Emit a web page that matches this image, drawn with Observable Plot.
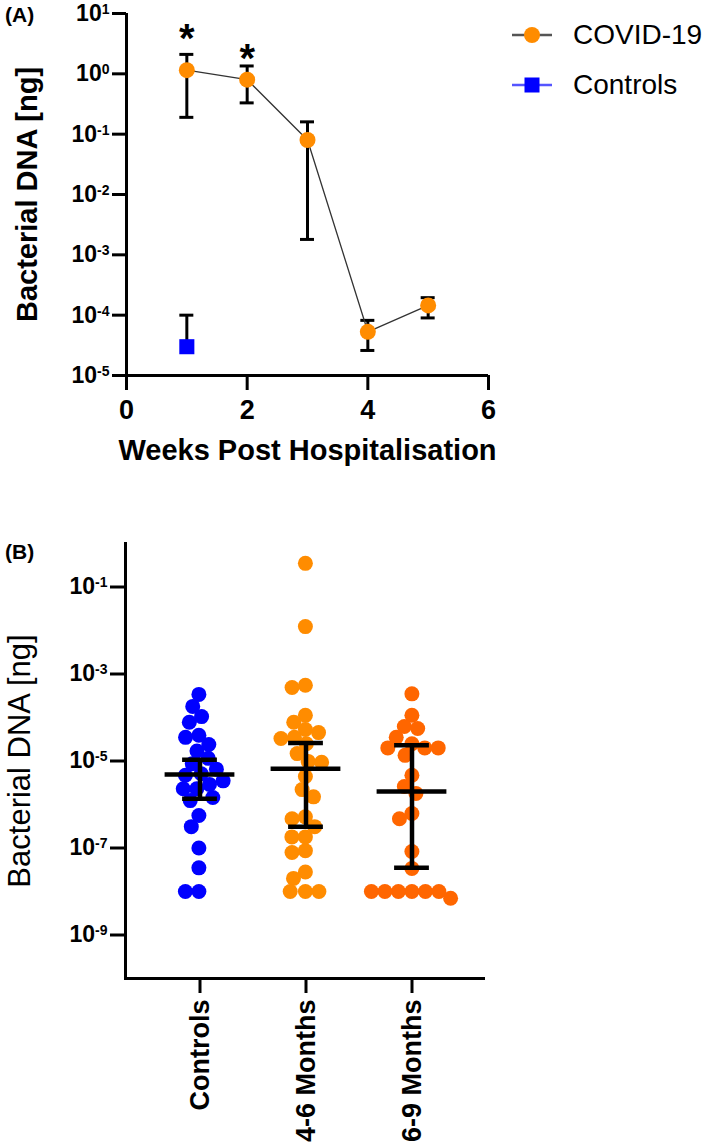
<!DOCTYPE html>
<html>
<head>
<meta charset="utf-8">
<script src="https://cdn.jsdelivr.net/npm/d3@7"></script>
<script src="https://cdn.jsdelivr.net/npm/@observablehq/plot@0.6"></script>
<style>
  body { margin: 0; background: #fff; }
  #wrap { position: relative; width: 709px; height: 1148px; font-family: "Liberation Sans", Arial, sans-serif; color: #000; }
  .abs { position: absolute; white-space: nowrap; }
  #plotA { position: absolute; left: 0; top: 0; }
  #plotB { position: absolute; left: 0; top: 500px; }
  .panel { font-size: 21px; font-weight: bold; line-height: 21px; }
  .leg { font-size: 28px; line-height: 28px; }
  svg g[aria-label$="tick label"] { font-weight: bold; }
</style>
</head>
<body>
<div id="wrap">
  <div id="plotA"></div>
  <div id="plotB"></div>
  <div class="abs panel" style="left:5px;top:4px">(A)</div>
  <div class="abs panel" style="left:5px;top:541px">(B)</div>
  <svg class="abs" style="left:510px;top:25px" width="44" height="20">
    <line x1="2" x2="42" y1="10" y2="10" stroke="#555" stroke-width="2.5"/>
    <circle cx="22" cy="10" r="8" fill="#FF8C00"/>
  </svg>
  <div class="abs leg" style="left:573px;top:21px">COVID-19</div>
  <svg class="abs" style="left:510px;top:75px" width="44" height="20">
    <line x1="2" x2="42" y1="10" y2="10" stroke="#5555FF" stroke-width="2.5"/>
    <rect x="14.5" y="2.5" width="15" height="15" fill="#0000FF"/>
  </svg>
  <div class="abs leg" style="left:573px;top:71px">Controls</div>
</div>
<script>
// ---------- Panel A data ----------
const weeks = [1, 2, 3, 4, 5];
const covidMean = [1.15, 0.80, 0.080, 5.3e-5, 1.45e-4];
const covidHi   = [2.1, 1.35, 0.16, 8.2e-5, 1.95e-4];
const covidLo   = [0.19, 0.33, 0.0018, 2.6e-5, 9.0e-5];
const controlWeek = [1];
const controlMean = [3.0e-5];
const controlHi   = [1.0e-4];
const sigWeeks = [1, 2];
const sigY = [5.6, 2.6];
const xTicksA = [0, 2, 4, 6];
const yTicksA = [10, 1, 0.1, 0.01, 1e-3, 1e-4, 1e-5];

// ---------- Panel B data ----------
const groups = ["Controls", "4-6 Months", "6-9 Months"];
const controlsVals = [3.4e-4, 1.8e-4, 1.05e-4, 7.8e-5, 3.9e-5, 3.5e-5, 2.4e-5, 1.7e-5, 1.15e-5, 8.7e-6,
  6.5e-6, 5.1e-6, 4.7e-6, 3.5e-6, 2.9e-6, 2.3e-6, 2.3e-6, 1.45e-6, 1.23e-6, 5.6e-7, 3.1e-7, 1.0e-7,
  3.5e-8, 1.0e-8, 1.0e-8];
const m46Vals = [0.35, 0.0123, 5.5e-4, 4.9e-4, 1.12e-4, 7.8e-5, 5.3e-5, 4.5e-5, 3.5e-5, 3.3e-5, 2.5e-5,
  1.48e-5, 9.8e-6, 9.3e-6, 4.4e-6, 2.2e-6, 1.5e-6, 5.2e-7, 4.7e-7, 3.1e-7, 1.8e-7, 1.8e-7, 8.7e-8,
  7.9e-8, 2.8e-8, 2.0e-8, 1.0e-8, 1.0e-8, 1.0e-8];
const m69Vals = [3.5e-4, 1.12e-4, 6.2e-5, 5.6e-5, 3.5e-5, 2.5e-5, 2.0e-5, 2.0e-5, 2.0e-5, 1.35e-5,
  4.7e-6, 2.6e-6, 1.8e-6, 6.2e-7, 4.7e-7, 8.3e-8, 3.4e-8, 1.0e-8, 1.0e-8, 1.0e-8, 1.0e-8, 1.0e-8,
  1.0e-8, 7.0e-9];
const groupMedian = [4.9e-6, 6.6e-6, 2.0e-6];
const groupHi = [1.07e-5, 2.6e-5, 2.3e-5];
const groupLo = [1.35e-6, 3.1e-7, 3.5e-8];
const groupColors = ["#0000FF", "#FF8C00", "#FF6600"];
const yTicksB = [1e-1, 1e-3, 1e-5, 1e-7, 1e-9];

const FONT = '"Liberation Sans", Arial, sans-serif';
const pow = d => "10^" + Math.round(Math.log10(d));

function superscripts(svg) {
  svg.querySelectorAll('g[aria-label="y-axis tick label"] text').forEach(t => {
    const parts = t.textContent.split("^");
    if (parts.length === 2) {
      t.textContent = parts[0];
      const ts = document.createElementNS("http://www.w3.org/2000/svg", "tspan");
      ts.setAttribute("dy", "-7");
      ts.setAttribute("font-size", "14");
      ts.textContent = parts[1];
      t.appendChild(ts);
    }
  });
}

// ---------- Panel A ----------
const covid = weeks.map((w, i) => ({week: w, mean: covidMean[i], lo: covidLo[i], hi: covidHi[i]}));
const ctrl = controlWeek.map((w, i) => ({week: w, mean: controlMean[i], hi: controlHi[i]}));
const sig = sigWeeks.map((w, i) => ({week: w, y: sigY[i]}));

const plotA = Plot.plot({
  width: 709, height: 500,
  marginLeft: 126, marginRight: 221, marginTop: 13, marginBottom: 125,
  style: {fontFamily: FONT, background: "transparent", overflow: "visible", color: "#000"},
  x: {domain: [0, 6]},
  y: {type: "log", domain: [1e-5, 10]},
  marks: [
    Plot.axisX({ticks: xTicksA, tickSize: 15, tickPadding: 9, fontSize: 27, fontWeight: "bold",
      strokeWidth: 3, label: null, tickFormat: d => String(d)}),
    Plot.axisY({ticks: yTicksA, tickSize: 14, tickPadding: 3, fontSize: 23, fontWeight: "bold",
      strokeWidth: 3, label: null, tickFormat: pow}),
    Plot.ruleX([0], {stroke: "#000", strokeWidth: 3}),
    Plot.ruleY([1e-5], {stroke: "#000", strokeWidth: 3}),
    Plot.ruleX(covid, {x: "week", y1: "lo", y2: "hi", stroke: "#000", strokeWidth: 3}),
    Plot.ruleY(covid, {x1: "week", x2: "week", y: "hi", insetLeft: -7, insetRight: -7, stroke: "#000", strokeWidth: 3}),
    Plot.ruleY(covid, {x1: "week", x2: "week", y: "lo", insetLeft: -7, insetRight: -7, stroke: "#000", strokeWidth: 3}),
    Plot.ruleX(ctrl, {x: "week", y1: "mean", y2: "hi", stroke: "#000", strokeWidth: 3}),
    Plot.ruleY(ctrl, {x1: "week", x2: "week", y: "hi", insetLeft: -7, insetRight: -7, stroke: "#000", strokeWidth: 3}),
    Plot.line(covid, {x: "week", y: "mean", stroke: "#333", strokeWidth: 1.3}),
    Plot.dot(covid, {x: "week", y: "mean", r: 8, fill: "#FF8C00", stroke: "none"}),
    Plot.dot(ctrl, {x: "week", y: "mean", symbol: "square", r: 8.5, fill: "#0000FF", stroke: "none"}),
    Plot.text(sig, {x: "week", y: "y", text: () => "*", fontSize: 40, fontWeight: "bold", dy: 10}),
    Plot.text(["Bacterial DNA [ng]"], {frameAnchor: "left", textAnchor: "middle", rotate: -90, dx: -99,
      fontSize: 29, fontWeight: "bold"}),
    Plot.text(["Weeks Post Hospitalisation"], {frameAnchor: "bottom", dy: 84, fontSize: 29, fontWeight: "bold"})
  ]
});
superscripts(plotA);
document.getElementById("plotA").appendChild(plotA);

// ---------- Panel B ----------
const xOpts = {type: "band", domain: groups, range: [125, 485], paddingInner: 0.2, paddingOuter: 0.29};
const xB = Plot.scale({x: xOpts});
const centerB = (125 + 485) / 2;
const stats = groups.map((g, i) => ({group: g, median: groupMedian[i], lo: groupLo[i], hi: groupHi[i]}));
const valsByGroup = [controlsVals, m46Vals, m69Vals];

const dotMarks = groups.map((g, i) =>
  Plot.dot(valsByGroup[i].map(v => ({v})),
    Plot.dodgeX({anchor: "middle", padding: -1.5},
      {y: "v", r: 7.5, fill: groupColors[i], stroke: "none",
       dx: xB.apply(g) - centerB}))
);

const plotB = Plot.plot({
  width: 709, height: 648,
  marginLeft: 125, marginRight: 224, marginTop: 43, marginBottom: 170,
  style: {fontFamily: FONT, background: "transparent", overflow: "visible", color: "#000"},
  x: {domain: groups, paddingInner: 0.2, paddingOuter: 0.29},
  y: {type: "log", domain: [1e-10, 1]},
  marks: [
    ...dotMarks,
    Plot.ruleX(stats, {x: "group", y1: "lo", y2: "hi", stroke: "#000", strokeWidth: 4.5}),
    Plot.tickY(stats, {x: "group", y: "median", stroke: "#000", strokeWidth: 4.5,
      insetLeft: (xB.bandwidth - 70) / 2, insetRight: (xB.bandwidth - 70) / 2}),
    Plot.tickY(stats, {x: "group", y: "hi", stroke: "#000", strokeWidth: 4.5,
      insetLeft: (xB.bandwidth - 35) / 2, insetRight: (xB.bandwidth - 35) / 2}),
    Plot.tickY(stats, {x: "group", y: "lo", stroke: "#000", strokeWidth: 4.5,
      insetLeft: (xB.bandwidth - 35) / 2, insetRight: (xB.bandwidth - 35) / 2}),
    Plot.axisX({tickSize: 15, tickPadding: 6, tickRotate: -90, fontSize: 27, fontWeight: "bold",
      strokeWidth: 3, label: null}),
    Plot.axisY({ticks: yTicksB, tickSize: 15, tickPadding: 3, fontSize: 23, fontWeight: "bold",
      strokeWidth: 3, label: null, tickFormat: pow}),
    Plot.frame({anchor: "left", stroke: "#000", strokeWidth: 3}),
    Plot.ruleY([1e-10], {stroke: "#000", strokeWidth: 3}),
    Plot.text(["Bacterial DNA [ng]"], {frameAnchor: "left", textAnchor: "middle", rotate: -90, dx: -105, fontSize: 31})
  ]
});
superscripts(plotB);
document.getElementById("plotB").appendChild(plotB);
</script>
</body>
</html>
